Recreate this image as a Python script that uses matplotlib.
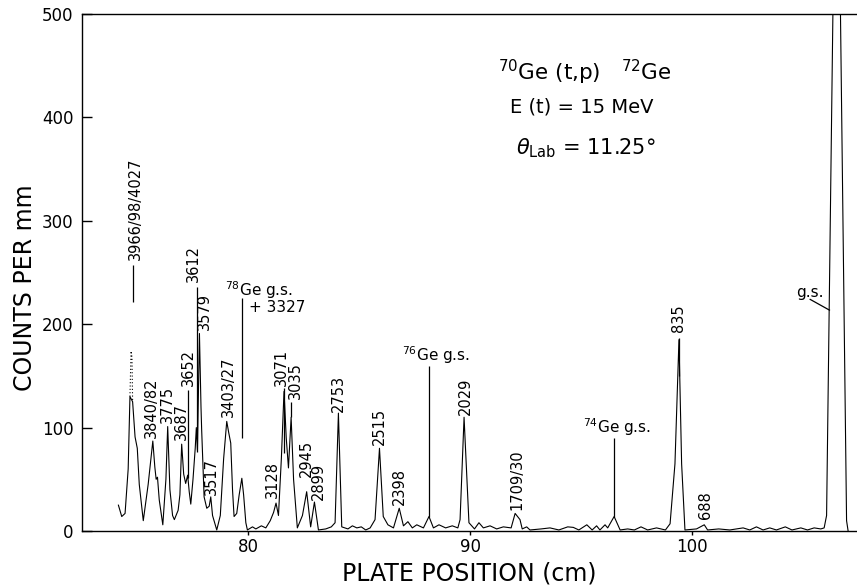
import matplotlib
matplotlib.use("Agg")
import matplotlib.pyplot as plt

# ---------------- data ----------------
pos = [74.16, 74.31, 74.46, 74.60, 74.68,
       74.80, 74.91, 75.01, 75.10, 75.28, 75.50, 75.71, 75.80, 75.86, 75.92,
       76.00, 76.16, 76.30, 76.38, 76.48, 76.60, 76.68, 76.85, 76.93, 77.01,
       77.10, 77.19, 77.28, 77.35, 77.42, 77.52, 77.62, 77.67, 77.72, 77.81,
       77.88, 77.91, 78.02, 78.14, 78.25, 78.32, 78.40, 78.59, 78.75, 78.90,
       79.04, 79.13, 79.22, 79.30, 79.37, 79.49, 79.60, 79.72, 79.80, 79.90,
       79.97, 80.20, 80.35, 80.60, 80.80, 81.00, 81.15, 81.26, 81.37, 81.50,
       81.62, 81.72, 81.82, 81.94, 82.05, 82.22, 82.45, 82.64, 82.82, 82.99,
       83.17, 83.50, 83.75, 83.92, 84.07, 84.22, 84.50, 84.70, 84.90, 85.10,
       85.30, 85.50, 85.72, 85.92, 86.09, 86.30, 86.55, 86.81, 87.00, 87.20,
       87.40, 87.60, 87.90, 88.15, 88.35, 88.60, 88.90, 89.20, 89.45, 89.55,
       89.73, 89.95, 90.20, 90.40, 90.60, 90.90, 91.20, 91.50, 91.85, 92.03,
       92.25, 92.35, 92.55, 92.70, 93.20, 93.60, 94.00, 94.40, 94.65, 94.90,
       95.26, 95.50, 95.70, 95.85, 96.08, 96.20, 96.49, 96.76, 97.10, 97.40,
       97.70, 98.00, 98.40, 98.80, 99.01, 99.23, 99.41, 99.53, 99.68, 100.20,
       100.55, 100.70, 101.20, 101.70, 102.30, 102.60, 102.90, 103.20, 103.50,
       103.80, 104.20, 104.50, 104.90, 105.20, 105.50, 105.80, 105.95, 106.06,
       106.35, 106.68, 106.96, 107.03]
counts = [25, 14, 17, 60, 130,
          125, 91, 80, 45, 10, 45, 87, 62, 50, 52,
          30, 6, 50, 101, 40, 15, 11, 20, 35, 84,
          55, 46, 54, 38, 26, 50, 80, 100, 78, 191,
          120, 98, 33, 22, 24, 33, 15, 1, 15, 70,
          106, 95, 85, 40, 14, 17, 35, 51, 35, 8,
          1, 4, 2, 5, 3, 10, 18, 27, 15, 70,
          135, 90, 61, 110, 50, 3, 15, 38, 4, 28,
          1, 2, 4, 8, 114, 4, 2, 5, 3, 4,
          1, 3, 11, 80, 14, 6, 3, 22, 5, 9,
          3, 6, 3, 14, 3, 6, 3, 5, 3, 11,
          110, 8, 2, 8, 3, 5, 2, 4, 3, 17,
          11, 2, 4, 1, 2, 3, 1, 4, 3.5, 1,
          6, 1, 5, 1, 6, 3, 14, 1, 2, 1,
          4, 1, 3, 1, 7, 65, 185, 65, 1, 2,
          6, 1, 2, 1, 3, 1, 4, 1, 3,
          1, 4, 1, 3, 1, 3, 2, 3, 15,
          510, 510, 10, 0]

# dotted (uncertain) top of the 3966/98/4027 peak
tip_pos = [74.68, 74.73, 74.77, 74.80]
tip_counts = [130, 174, 168, 125]

# rotated level labels: (text, x, bottom of text)
level_labels = ["3966/98/4027", "3840/82", "3775", "3687", "3652", "3612", "3579",
                "3517", "3403/27", "3128", "3071", "3035", "2945", "2899", "2753",
                "2515", "2398", "2029", "1709/30", "835", "688"]
level_x = [74.92, 75.66, 76.38, 77.01, 77.31, 77.53, 78.02,
           78.36, 79.11, 81.11, 81.52, 82.12, 82.64, 83.17, 84.07,
           85.91, 86.81, 89.77, 92.13, 99.41, 100.59]
level_y = [262, 90, 104, 88, 140, 241, 194,
           35, 110, 32, 140, 128, 52, 30, 115,
           83, 25, 112, 20, 192, 12]

# marker lines: x, from, to
mark_x = [74.80, 77.31, 77.69, 79.74, 81.62, 81.94, 88.15, 96.49, 99.41]
mark_lo = [221, 51, 76, 90, 75, 110, 14, 14, 150]
mark_hi = [257, 136, 236, 225, 138, 125, 160, 90, 187]

# ---------------- figure ----------------
fig = plt.figure(figsize=(8.57, 5.86), dpi=100)
ax = fig.add_axes([82/857, 55/586, 775/857, 517/586])

ax.plot(pos, counts, color="black", lw=0.8, clip_on=True)
ax.plot(tip_pos, tip_counts, color="black", lw=0.8, ls=(0, (1, 2)))

for t, x, y in zip(level_labels, level_x, level_y):
    fs = 10.5
    ax.text(x, y, t, rotation=90, ha="center", va="bottom", fontsize=fs)

ax.vlines(mark_x, mark_lo, mark_hi, color="black", lw=0.9)

ax.text(78.96, 233, r"$^{78}$Ge g.s.", fontsize=11, ha="left", va="center")
ax.text(80.05, 216, "+ 3327", fontsize=11, ha="left", va="center")
ax.text(86.92, 170, r"$^{76}$Ge g.s.", fontsize=11, ha="left", va="center")
ax.text(95.10, 100, r"$^{74}$Ge g.s.", fontsize=11, ha="left", va="center")
ax.text(105.29, 231, "g.s.", fontsize=11, ha="center", va="center")
ax.plot([105.32, 106.19], [224, 213.6], color="black", lw=0.9)

ax.text(95.16, 444, r"$^{70}$Ge (t,p)   $^{72}$Ge", fontsize=15.5, ha="center", va="center")
ax.text(95.05, 410, "E (t) = 15 MeV", fontsize=14, ha="center", va="center")
ax.text(95.20, 370, r"$\theta_{\rm Lab}$ = 11.25°", fontsize=15, ha="center", va="center")

ax.set_xlim(72.52, 107.43)
ax.set_ylim(0, 500)
ax.set_xticks([80, 90, 100])
ax.set_yticks([0, 100, 200, 300, 400, 500])
ax.tick_params(axis="y", direction="in", length=7, width=1, labelsize=12, pad=6)
ax.tick_params(axis="x", direction="out", length=3, width=1, labelsize=12, pad=2)
ax.spines["right"].set_visible(False)
for s in ["left", "bottom", "top"]:
    ax.spines[s].set_linewidth(1.0)

ax.set_xlabel("PLATE POSITION (cm)", fontsize=17, labelpad=4)
ax.set_ylabel("COUNTS PER mm", fontsize=17)
ax.yaxis.set_label_coords(-0.058, 0.47)

fig.savefig("out.png", dpi=100)
